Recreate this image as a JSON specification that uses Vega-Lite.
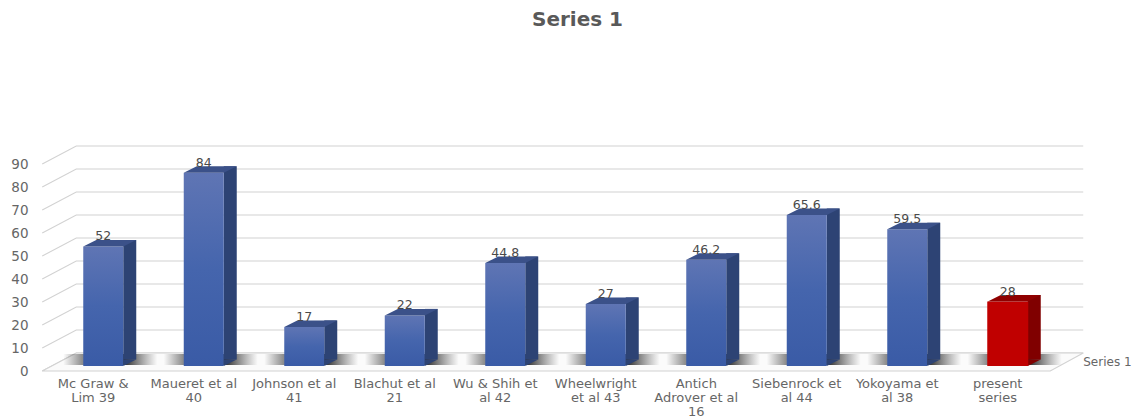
{
"$schema":"https://vega.github.io/schema/vega-lite/v6.json",
"autosize":{"type":"none"},
"padding":{"left":76,"top":146,"right":49,"bottom":63},
"width":1007,"height":207,
"background":"white",
"config":{"view":{"stroke":null}},
"title":{"text":"Series 1","font":"DejaVu Sans","fontSize":20,"fontWeight":"bold","color":"#595959","anchor":"middle","dx":-2,"offset":114},
"datasets":{
"bars":[
{"study":"Mc Graw &\nLim 39","value":52,"group":"other"},
{"study":"Maueret et al\n40","value":84,"group":"other"},
{"study":"Johnson et al\n41","value":17,"group":"other"},
{"study":"Blachut et al\n21","value":22,"group":"other"},
{"study":"Wu & Shih et\nal 42","value":44.8,"group":"other"},
{"study":"Wheelwright\net al 43","value":27,"group":"other"},
{"study":"Antich\nAdrover et al\n16","value":46.2,"group":"other"},
{"study":"Siebenrock et\nal  44","value":65.6,"group":"other"},
{"study":"Yokoyama et\nal  38","value":59.5,"group":"other"},
{"study":"present\nseries","value":28,"group":"present"}
],
"ticks":[{"t":0},{"t":10},{"t":20},{"t":30},{"t":40},{"t":50},{"t":60},{"t":70},{"t":80},{"t":90}]
},
"data":{"name":"bars"},
"encoding":{
"x":{"field":"study","type":"nominal","sort":null,"title":null,
"scale":{"type":"band","range":[-23,982],"paddingInner":0,"paddingOuter":0},
"axis":{"domain":false,"ticks":false,"labelAngle":0,"labelFont":"DejaVu Sans","labelFontSize":13,"labelColor":"#666666","labelPadding":24,"labelOffset":-10,"labelLineHeight":14,"labelExpr":"split(datum.label,'\\n')","labelLimit":0}},
"y":{"type":"quantitative","title":null,"scale":{"domain":[0,90],"nice":false},
"axis":{"values":[0,10,20,30,40,50,60,70,80,90],"domain":false,"ticks":false,"grid":false,"labelFont":"DejaVu Sans","labelFontSize":13.5,"labelColor":"#666666","labelPadding":48,"labelOffset":18}}
},
"layer":[
{"data":{"name":"ticks"},
 "mark":{"type":"point","shape":"M-61,18L-27,0L980,0","filled":false,"size":4,"opacity":1,"stroke":"#d2d2d2","strokeWidth":1.1},
 "encoding":{"x":{"datum":"Mc Graw &\nLim 39"},"y":{"field":"t","type":"quantitative"}}},
{"data":{"values":[{"floor":0}]},
 "mark":{"type":"point","shape":"M-61,18L-27,0L980,0L947,18Z","filled":true,"size":4,"opacity":1,"fill":"#fbfbfb","stroke":"#d2d2d2","strokeWidth":1.1},
 "encoding":{"x":{"datum":"Mc Graw &\nLim 39"},"y":{"field":"floor","type":"quantitative"}}},
{"mark":{"type":"bar","size":94,"xOffset":7,"yOffset":12,"y2Offset":1,
  "fill":{"gradient":"linear","x1":0,"y1":0,"x2":1,"y2":0,"stops":[{"offset":0,"color":"rgba(70,70,70,0)"},{"offset":0.2,"color":"rgba(70,70,70,0.6)"},{"offset":0.65,"color":"rgba(30,30,30,0.95)"},{"offset":1,"color":"rgba(70,70,70,0)"}]}},
 "encoding":{"y":{"datum":0},"y2":{"datum":0}}},
{"mark":{"type":"bar","size":13,"xOffset":26.5,"yOffset":6.5,"y2Offset":6.5},
 "encoding":{"y":{"field":"value"},"y2":{"datum":0},"color":{"field":"group","type":"nominal","legend":null,"scale":{"domain":["other","present"],"range":["#2d4374","#800000"]}}}},
{"mark":{"type":"point","shape":"M20,6.5L20,13L33,6.5Z","filled":true,"size":4,"opacity":1,"strokeWidth":0},
 "encoding":{"y":{"datum":0},"color":{"field":"group","type":"nominal","legend":null}}},
{"transform":[{"filter":"datum.group==='other'"}],
 "mark":{"type":"bar","size":40,"yOffset":13,"y2Offset":13,
  "fill":{"gradient":"linear","x1":0,"y1":0,"x2":0,"y2":1,"stops":[{"offset":0,"color":"#5f75b4"},{"offset":0.5,"color":"#4565ad"},{"offset":1,"color":"#3a5ba6"}]}},
 "encoding":{"y":{"field":"value"},"y2":{"datum":0}}},
{"transform":[{"filter":"datum.group==='present'"}],
 "mark":{"type":"bar","size":41,"yOffset":13,"y2Offset":13,"fill":"#c00000"},
 "encoding":{"y":{"field":"value"},"y2":{"datum":0}}},
{"mark":{"type":"point","shape":"M-20,13L20,13L33,6.5L-7,6.5Z","filled":true,"size":4,"opacity":1,"strokeWidth":0},
 "encoding":{"y":{"field":"value"},"fill":{"field":"group","type":"nominal","legend":null,"scale":{"domain":["other","present"],"range":["#3b5189","#8f0000"]}}}},
{"mark":{"type":"text","font":"DejaVu Sans","fontSize":12.5,"color":"#4a4a4a","baseline":"alphabetic","yOffset":7},
 "encoding":{"y":{"field":"value"},"text":{"field":"value","type":"quantitative"}}},
{"data":{"values":[{"depth":0,"label":"Series 1"}]},
 "mark":{"type":"text","font":"DejaVu Sans","fontSize":12,"color":"#666666","align":"left","baseline":"middle","xOffset":75.5,"yOffset":9},
 "encoding":{"x":{"datum":"present\nseries"},"y":{"field":"depth","type":"quantitative"},"text":{"field":"label","type":"nominal"}}}
]
}
